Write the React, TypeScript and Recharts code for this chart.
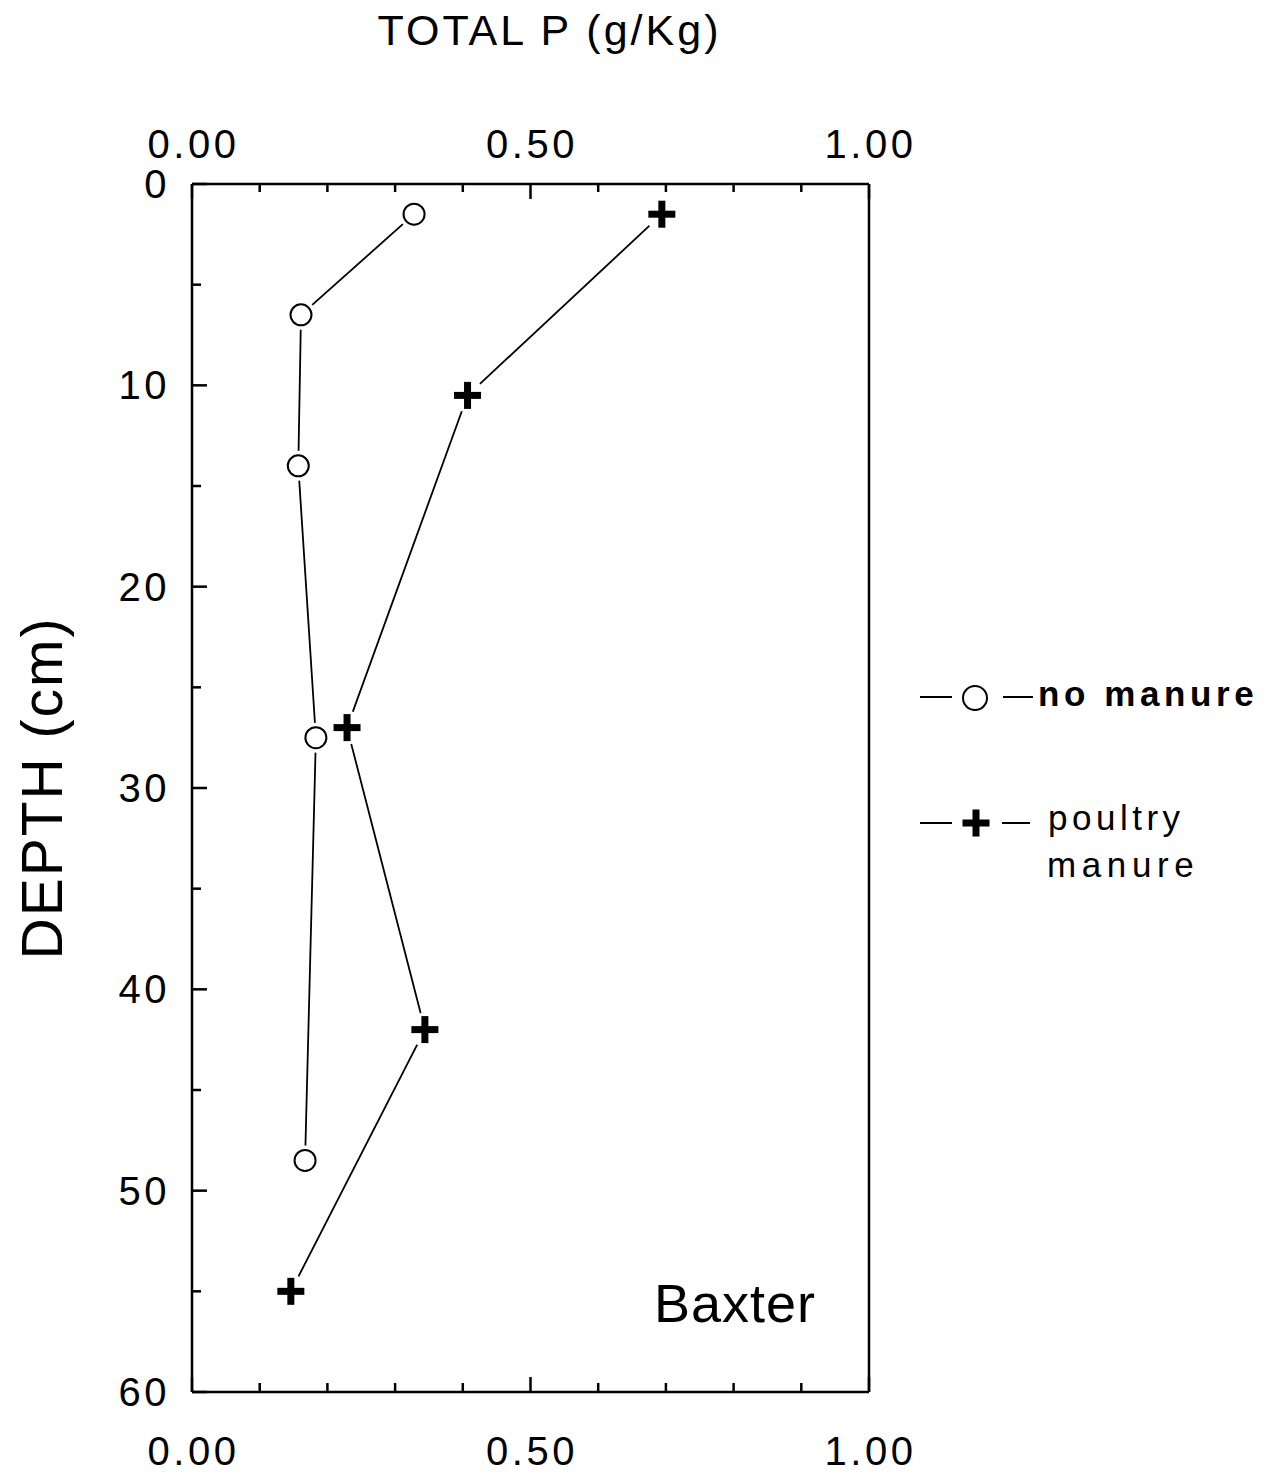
import { ScatterChart, Scatter, XAxis, YAxis, Legend, Label } from "recharts";

// total P (g/Kg) vs depth (cm), Baxter soil
const seriesNames = ["no manure", "poultry manure"];
const noManureP = [0.328, 0.161, 0.157, 0.183, 0.167];
const noManureDepth = [1.5, 6.5, 14, 27.5, 48.5];
const poultryP = [0.694, 0.407, 0.229, 0.344, 0.146];
const poultryDepth = [1.5, 10.5, 27, 42, 55];

const pTicks = [0, 0.1, 0.2, 0.3, 0.4, 0.5, 0.6, 0.7, 0.8, 0.9, 1.0];
const pLabels = ["0.00", "0.50", "1.00"];
const depthTicks = [0, 5, 10, 15, 20, 25, 30, 35, 40, 45, 50, 55, 60];

const FONT = "'Liberation Sans', Arial, Helvetica, sans-serif";
const INK = "#000";

const noManure = noManureP.map((p, i) => ({ p, depth: noManureDepth[i] }));
const poultry = poultryP.map((p, i) => ({ p, depth: poultryDepth[i] }));

const isMajorP = (v: number) => Math.abs(v * 2 - Math.round(v * 2)) < 1e-6;
const pText = (v: number) => pLabels[Math.round(v * 2)];

const TopTick = (props: any) => {
  const { x, y, payload } = props;
  const v = payload.value;
  const major = isMajorP(v);
  return (
    <g>
      <line x1={x} x2={x} y1={y} y2={y + (major ? 15 : 8)} stroke={INK} strokeWidth={2.5} />
      {major && (
        <text x={x + 1.5} y={y - 26} textAnchor="middle" fontFamily={FONT} fontSize={40} letterSpacing={3.5} fill={INK}>
          {pText(v)}
        </text>
      )}
    </g>
  );
};

const BottomTick = (props: any) => {
  const { x, y, payload } = props;
  const v = payload.value;
  const major = isMajorP(v);
  return (
    <g>
      <line x1={x} x2={x} y1={y} y2={y - (major ? 15 : 9)} stroke={INK} strokeWidth={2.5} />
      {major && (
        <text x={x + 1.5} y={y + 73} textAnchor="middle" fontFamily={FONT} fontSize={40} letterSpacing={3.5} fill={INK}>
          {pText(v)}
        </text>
      )}
    </g>
  );
};

const DepthTick = (props: any) => {
  const { x, y, payload } = props;
  const v = payload.value;
  const major = v % 10 === 0;
  return (
    <g>
      <line x1={x} x2={x + (major ? 15 : 9)} y1={y} y2={y} stroke={INK} strokeWidth={2.5} />
      {major && (
        <text x={x - 22} y={y + 14} textAnchor="end" fontFamily={FONT} fontSize={40} letterSpacing={3.5} fill={INK}>
          {v}
        </text>
      )}
    </g>
  );
};

const CircleMark = (props: any) => {
  const { cx, cy } = props;
  return (
    <g>
      <circle cx={cx} cy={cy} r={15} fill="#fff" />
      <circle cx={cx} cy={cy} r={10.5} fill="#fff" stroke={INK} strokeWidth={2} />
    </g>
  );
};

const PlusMark = (props: any) => {
  const { cx, cy } = props;
  return (
    <g>
      <circle cx={cx} cy={cy} r={17} fill="#fff" />
      <rect x={cx - 13.5} y={cy - 3.5} width={27} height={7} fill={INK} />
      <rect x={cx - 3.5} y={cy - 13.5} width={7} height={27} fill={INK} />
    </g>
  );
};

const LegendBox = () => (
  <svg width={360} height={230} style={{ display: "block" }}>
    <line x1={2} x2={34} y1={27} y2={27} stroke={INK} strokeWidth={2} />
    <circle cx={57} cy={28} r={12} fill="#fff" stroke={INK} strokeWidth={2} />
    <line x1={85} x2={115} y1={27} y2={27} stroke={INK} strokeWidth={2} />
    <text x={120} y={36} fontFamily={FONT} fontSize={35} fontWeight="bold" letterSpacing={4.6} fill={INK}>
      {seriesNames[0]}
    </text>
    <line x1={2} x2={34} y1={153} y2={153} stroke={INK} strokeWidth={2} />
    <rect x={58 - 13.5} y={153 - 3.5} width={27} height={7} fill={INK} />
    <rect x={58 - 3.5} y={153 - 13.5} width={7} height={27} fill={INK} />
    <line x1={84} x2={112} y1={153} y2={153} stroke={INK} strokeWidth={2} />
    <text x={130} y={160} fontFamily={FONT} fontSize={35} letterSpacing={4.5} fill={INK}>
      {seriesNames[1].split(" ")[0]}
    </text>
    <text x={129} y={207} fontFamily={FONT} fontSize={35} letterSpacing={5.6} fill={INK}>
      {seriesNames[1].split(" ")[1]}
    </text>
  </svg>
);

export default function App() {
  return (
    <div style={{ position: "absolute", left: 0, top: 0, background: "#fff" }}>
      <ScatterChart width={1277} height={1475} margin={{ top: 183, left: 191, right: 407, bottom: 82 }}>
        <XAxis
          xAxisId="top"
          orientation="top"
          type="number"
          dataKey="p"
          domain={[0, 1]}
          ticks={pTicks}
          height={1}
          tickSize={0}
          tickMargin={0}
          tick={<TopTick />}
          interval={0}
          axisLine={{ stroke: INK, strokeWidth: 2.5 }}
        >
          <Label
            content={(props: any) => {
              const vb = props.viewBox;
              return (
                <text x={vb.x + vb.width / 2 + 19} y={vb.y + vb.height - 139} textAnchor="middle" fontFamily={FONT} fontSize={43} letterSpacing={3} fill={INK}>
                  TOTAL P (g/Kg)
                </text>
              );
            }}
          />
        </XAxis>
        <XAxis
          type="number"
          dataKey="p"
          domain={[0, 1]}
          ticks={pTicks}
          height={1}
          tickSize={0}
          tickMargin={0}
          tick={<BottomTick />}
          interval={0}
          axisLine={{ stroke: INK, strokeWidth: 2.5 }}
        >
          <Label
            content={(props: any) => {
              const vb = props.viewBox;
              return (
                <text x={vb.x + vb.width - 53} y={vb.y - 70} textAnchor="end" fontFamily={FONT} fontSize={54} letterSpacing={1} fill={INK}>
                  Baxter
                </text>
              );
            }}
          />
        </XAxis>
        <YAxis
          type="number"
          dataKey="depth"
          domain={[0, 60]}
          reversed
          ticks={depthTicks}
          width={1}
          tickSize={0}
          tickMargin={0}
          tick={<DepthTick />}
          interval={0}
          axisLine={{ stroke: INK, strokeWidth: 2.5 }}
        >
          <Label
            content={(props: any) => {
              const vb = props.viewBox;
              const cy = vb.y + vb.height / 2;
              return (
                <text
                  transform={`translate(${vb.x + vb.width - 130}, ${cy}) rotate(-90)`}
                  x={0}
                  y={0}
                  textAnchor="middle"
                  fontFamily={FONT}
                  fontSize={57}
                  letterSpacing={2}
                  fill={INK}
                >
                  DEPTH (cm)
                </text>
              );
            }}
          />
        </YAxis>
        <YAxis
          yAxisId="right"
          orientation="right"
          type="number"
          dataKey="depth"
          domain={[0, 60]}
          reversed
          width={1}
          tick={false}
          tickLine={false}
          axisLine={{ stroke: INK, strokeWidth: 2.5 }}
        />
        <Legend
          layout="horizontal"
          verticalAlign="middle"
          align="center"
          content={() => <LegendBox />}
          wrapperStyle={{ position: "absolute", left: 918, top: 670, width: 360, height: 230 }}
        />
        <Scatter
          name={seriesNames[0]}
          data={noManure}
          line={{ stroke: INK, strokeWidth: 1.8 }}
          shape={<CircleMark />}
          isAnimationActive={false}
        />
        {/* same domains, so the top/right pair places these exactly like bottom/left */}
        <Scatter
          name={seriesNames[1]}
          data={poultry}
          xAxisId="top"
          yAxisId="right"
          line={{ stroke: INK, strokeWidth: 1.8 }}
          shape={<PlusMark />}
          isAnimationActive={false}
        />
      </ScatterChart>
    </div>
  );
}
